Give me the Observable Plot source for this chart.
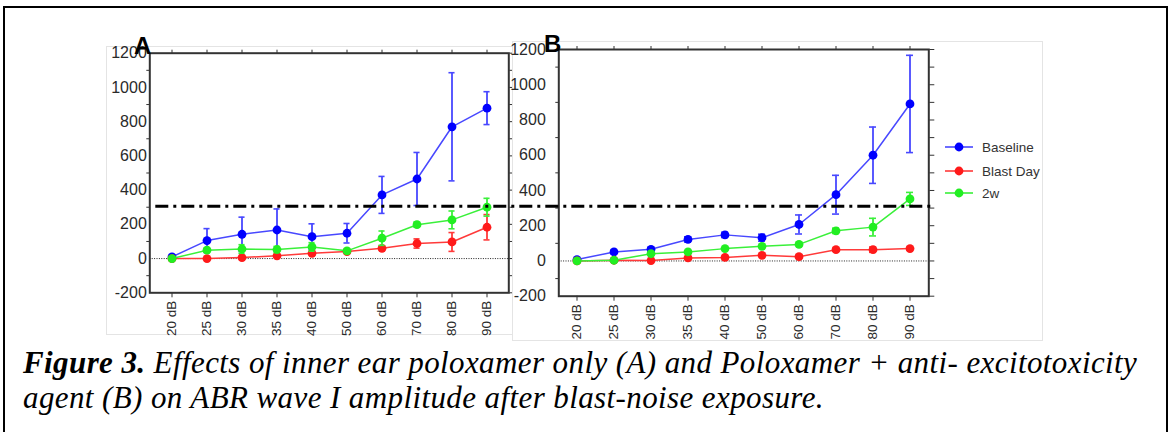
<!DOCTYPE html>
<html><head><meta charset="utf-8">
<script src="https://cdn.jsdelivr.net/npm/d3@7"></script>
<script src="https://cdn.jsdelivr.net/npm/@observablehq/plot@0.6"></script>
<style>
body{margin:0;background:#fff;}
#root{position:relative;width:1172px;height:432px;overflow:hidden;background:#fff;font-family:"Liberation Sans",Arial,sans-serif;}
.lbl{position:absolute;font-family:"Liberation Sans",Arial,sans-serif;font-weight:bold;font-size:24px;line-height:24px;color:#000;}
.leg{position:absolute;left:944px;font-size:13.5px;color:#333;display:flex;align-items:center;height:20px;}
.leg span{margin-left:8px;}
#caption{position:absolute;left:23px;top:345px;font-family:"Liberation Serif","Times New Roman",serif;font-style:italic;font-size:31px;letter-spacing:0.4px;line-height:35px;color:#000;white-space:nowrap;}
</style></head><body><div id="root"></div>
<script>
// ---------- data ----------
const categories = ["20 dB","25 dB","30 dB","35 dB","40 dB","50 dB","60 dB","70 dB","80 dB","90 dB"];
const seriesNames = ["Baseline","Blast Day","2w"];

const aBaseline    = [10,105,142,167,128,148,372,465,770,879];
const aBaselineErr = [0,70,100,123,75,57,108,155,316,96];
const aBlast       = [0,0,6,16,31,41,60,88,97,183];
const aBlastErr    = [0,0,0,0,0,0,10,27,55,74];
const aTwoW        = [0,49,56,53,68,45,119,198,226,300];
const aTwoWErr     = [0,12,25,18,25,8,42,15,52,52];

const bBaseline    = [8,51,66,122,148,132,207,376,600,891];
const bBaselineErr = [0,10,10,15,15,20,54,110,160,276];
const bBlast       = [0,4,2,17,20,32,24,64,64,70];
const bBlastErr    = [0,0,0,0,0,0,0,8,15,8];
const bTwoW        = [0,4,41,51,70,83,94,171,192,352];
const bTwoWErr     = [0,0,0,0,0,0,0,15,50,37];

const threshold = 310;
const yTickLabels = [-200,0,200,400,600,800,1000,1200];
const yAllTicks = [-200,-100,0,100,200,300,400,500,600,700,800,900,1000,1100,1200];
const yMinorTicks = [-100,100,300,500,700,900,1100];

const lineColor = {"Baseline":"#4848ff","Blast Day":"#ff3a3a","2w":"#3af03a"};
const dotColor  = {"Baseline":"#0000ff","Blast Day":"#ff1a1a","2w":"#22ee22"};

function rowsFor(vals, errs, name){
  return categories.map((c,i)=>({cat:c, series:name, v:vals[i], e:errs[i], lo:vals[i]-errs[i], hi:vals[i]+errs[i]}));
}

function seriesMarks(rows, name, capInset){
  const err = rows.filter(d=>d.e>0);
  return [
    Plot.ruleX(err, {x:"cat", y1:"lo", y2:"hi", stroke:lineColor[name], strokeWidth:1.8}),
    Plot.tickY(err, {x:"cat", y:"lo", stroke:lineColor[name], strokeWidth:1.6, insetLeft:capInset, insetRight:capInset}),
    Plot.tickY(err, {x:"cat", y:"hi", stroke:lineColor[name], strokeWidth:1.6, insetLeft:capInset, insetRight:capInset}),
    Plot.line(rows, {x:"cat", y:"v", stroke:lineColor[name], strokeWidth:1.5}),
    Plot.dot(rows, {x:"cat", y:"v", r:4.4, fill:dotColor[name], stroke:"none"})
  ];
}

const plain = d => String(d);
const none = () => "";

function panel(series, o){
  const frameW = o.width - o.ml - o.mr;
  const capInset = (frameW / categories.length - 7) / 2;
  return Plot.plot({
    width:o.width, height:o.height,
    marginLeft:o.ml, marginRight:o.mr, marginTop:o.mt, marginBottom:o.mb,
    x:{type:"band", domain:categories, padding:0, label:null},
    y:{domain:[-200,1200], label:null},
    style:{overflow:"visible", background:"transparent", fontFamily:"'Liberation Sans',Arial,sans-serif", color:"#222"},
    marks:[
      Plot.ruleY([0], {stroke:"#222", strokeWidth:1, strokeDasharray:"1,1.4"}),
      Plot.axisY({ticks:yTickLabels, anchor:"left", label:null, tickSize:0, tickPadding:o.labelPad, tickFormat:plain, fontSize:16, fill:"#2a2a2a"}),
      Plot.axisY({ticks:yMinorTicks, anchor:"left", label:null, tickSize:3, tickFormat:none, stroke:"#333"}),
      Plot.axisY({ticks:yAllTicks, anchor:"right", label:null, tickSize:5, tickFormat:none, stroke:"#333"}),
      Plot.axisX({ticks:categories, anchor:"bottom", label:null, tickSize:5, tickPadding:3, tickRotate:-90, textAnchor:"end", lineAnchor:"middle", fontSize:13.5, fill:"#2a2a2a", stroke:"#333"}),
      Plot.axisX({ticks:categories, anchor:"top", label:null, tickSize:4, tickFormat:none, stroke:"#333"}),
      Plot.frame({stroke:"#333", strokeWidth:2}),
      ...series.flatMap(s=>seriesMarks(s.rows, s.name, capInset)),
      ...(o.extra||[])
    ]
  });
}

const root = document.getElementById("root");
function place(el, left, top){ el.style.position="absolute"; el.style.left=left+"px"; el.style.top=top+"px"; root.appendChild(el); return el; }
function box(left, top, w, h, bg){
  const d=document.createElement("div");
  d.style.cssText=`position:absolute;left:${left}px;top:${top}px;width:${w}px;height:${h}px;border:1px solid #e4e4e4;background:${bg};box-sizing:border-box;`;
  root.appendChild(d);
}

// outer frame
const outer=document.createElement("div");
outer.style.cssText="position:absolute;left:3px;top:6px;width:1165px;height:440px;border:2px solid #000;box-sizing:border-box;";
root.appendChild(outer);

// Panel A
box(106,46,420,289,"#fff");
const seriesA = [
  {name:"Baseline", rows:rowsFor(aBaseline,aBaselineErr,"Baseline")},
  {name:"Blast Day", rows:rowsFor(aBlast,aBlastErr,"Blast Day")},
  {name:"2w", rows:rowsFor(aTwoW,aTwoWErr,"2w")}
];
place(panel(seriesA,{width:420,height:289,ml:43.3,mr:17.7,mt:6.7,mb:42.7,labelPad:3}),106,46);

// Panel B
box(512,41,531,300,"#fff");
const seriesB = [
  {name:"Baseline", rows:rowsFor(bBaseline,bBaselineErr,"Baseline")},
  {name:"Blast Day", rows:rowsFor(bBlast,bBlastErr,"Blast Day")},
  {name:"2w", rows:rowsFor(bTwoW,bTwoWErr,"2w")}
];
place(panel(seriesB,{width:531,height:300,ml:46.3,mr:114.7,mt:8,mb:45.3,labelPad:13,
  extra:[Plot.ruleY([threshold],{stroke:"#000", strokeWidth:3, strokeDasharray:"13,5,3,5", insetLeft:-403, insetRight:-2})]}),512,41);

// Panel letters
const la=document.createElement("div"); la.className="lbl"; la.textContent="A"; la.style.left="134px"; la.style.top="34px"; root.appendChild(la);
const lb=document.createElement("div"); lb.className="lbl"; lb.textContent="B"; lb.style.left="544px"; lb.style.top="32px"; root.appendChild(lb);

// Legend
const legY=[137,161,183];
seriesNames.forEach((n,i)=>{
  const d=document.createElement("div"); d.className="leg"; d.style.top=legY[i]+"px";
  d.innerHTML=`<svg width="30" height="20"><line x1="1" x2="29" y1="10" y2="10" stroke="${lineColor[n]}" stroke-width="1.6"/><circle cx="15" cy="10" r="4.4" fill="${dotColor[n]}"/></svg><span>${n}</span>`;
  root.appendChild(d);
});

// Caption
const cap=document.createElement("div"); cap.id="caption";
cap.innerHTML="<b>Figure 3.</b> Effects of inner ear poloxamer only (A) and Poloxamer + anti- excitotoxicity<br>agent (B) on ABR wave I amplitude after blast-noise exposure.";
root.appendChild(cap);
</script></body></html>
